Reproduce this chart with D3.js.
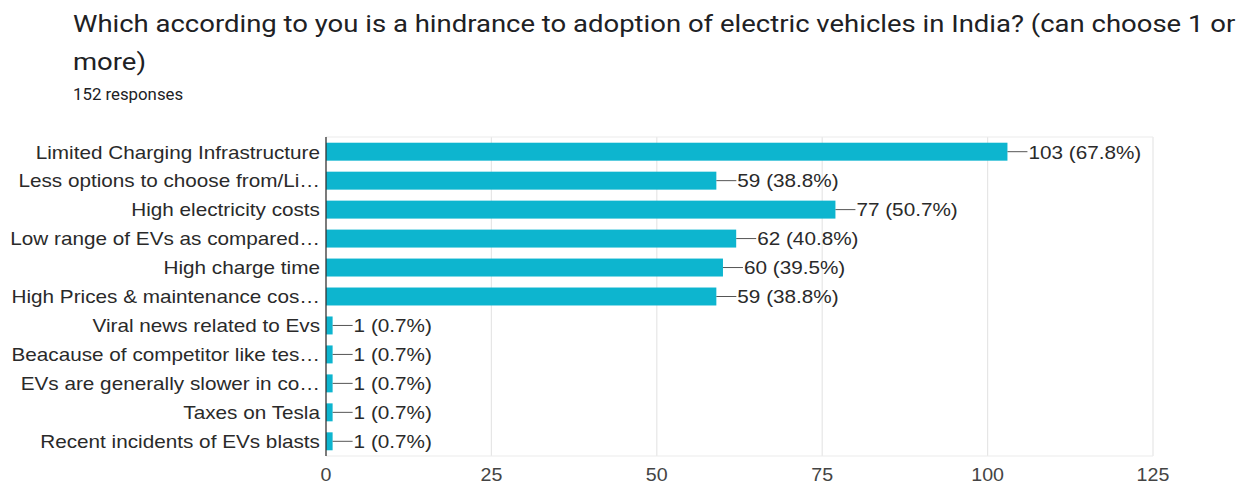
<!DOCTYPE html>
<html>
<head>
<meta charset="utf-8">
<script src="https://cdn.jsdelivr.net/npm/d3@7"></script>
<style>
  html, body { margin: 0; padding: 0; background: #fff; }
  svg { display: block; }
</style>
</head>
<body>
<svg id="chart" width="1245" height="486"></svg>
<script>
// Survey question and response count
const titleLines = [
  "Which according to you is a hindrance to adoption of electric vehicles in India? (can choose 1 or",
  "more)"
];
const responsesText = "152 responses";

// Answer options (already truncated as displayed) and their counts
const categories = [
  "Limited Charging Infrastructure",
  "Less options to choose from/Li\u2026",
  "High electricity costs",
  "Low range of EVs as compared\u2026",
  "High charge time",
  "High Prices & maintenance cos\u2026",
  "Viral news related to Evs",
  "Beacause of competitor like tes\u2026",
  "EVs are generally slower in co\u2026",
  "Taxes on Tesla",
  "Recent incidents of EVs blasts"
];
const counts = [103, 59, 77, 62, 60, 59, 1, 1, 1, 1, 1];
const percents = ["67.8%", "38.8%", "50.7%", "40.8%", "39.5%", "38.8%", "0.7%", "0.7%", "0.7%", "0.7%", "0.7%"];
const xTicks = [0, 25, 50, 75, 100, 125];

const svg = d3.select("#chart");

// Text is drawn slightly widened; stretch each label horizontally by a factor
function widen(sel, factor) {
  sel.each(function () {
    const w = this.getComputedTextLength();
    d3.select(this)
      .attr("textLength", w * factor)
      .attr("lengthAdjust", "spacingAndGlyphs");
  });
}

// Header
svg.append("g").selectAll("text")
  .data(titleLines)
  .join("text")
  .attr("x", 73)
  .attr("y", (d, i) => 32 + i * 38)
  .attr("font-family", "Roboto, 'Open Sans', sans-serif")
  .attr("font-size", 24)
  .attr("fill", "#202124")
  .text(d => d)
  .call(widen, 1.145);

svg.append("text")
  .attr("x", 73)
  .attr("y", 100)
  .attr("font-family", "Roboto, sans-serif")
  .attr("font-size", 16)
  .attr("fill", "#202124")
  .text(responsesText)
  .call(widen, 1.05);

// Plot area
const plot = { left: 326, right: 1153, top: 137, bottom: 456 };

const x = d3.scaleLinear().domain([0, 125]).range([plot.left, plot.right]);
const y = d3.scaleBand()
  .domain(categories)
  .range([plot.top + 0.5, plot.bottom - 0.5])
  .paddingInner(0.38)
  .paddingOuter(0.18);

const labelFont = "'Liberation Sans', Arial, sans-serif";
const labelSize = 19;
const labelStretch = 1.09;

// Vertical gridlines
svg.append("g").selectAll("line")
  .data(xTicks.slice(1))
  .join("line")
  .attr("x1", d => x(d)).attr("x2", d => x(d))
  .attr("y1", plot.top).attr("y2", plot.bottom)
  .attr("stroke", "#e6e6e6")
  .attr("stroke-width", 1.2);

// Top and bottom frame lines
svg.append("g").selectAll("line")
  .data([plot.top, plot.bottom])
  .join("line")
  .attr("x1", plot.left).attr("x2", plot.right)
  .attr("y1", d => d).attr("y2", d => d)
  .attr("stroke", "#ececec")
  .attr("stroke-width", 1.2);

// Bars
svg.append("g").selectAll("rect")
  .data(counts)
  .join("rect")
  .attr("x", x(0))
  .attr("y", (d, i) => y(categories[i]))
  .attr("width", d => x(d) - x(0))
  .attr("height", y.bandwidth())
  .attr("fill", "#0db5cf");

// Baseline axis
svg.append("line")
  .attr("x1", x(0)).attr("x2", x(0))
  .attr("y1", plot.top).attr("y2", plot.bottom)
  .attr("stroke", "#333")
  .attr("stroke-width", 1.3);

// Category labels (right-aligned against the axis)
svg.append("g").selectAll("text")
  .data(categories)
  .join("text")
  .attr("x", x(0) - 6)
  .attr("y", d => y(d) + y.bandwidth() / 2)
  .attr("dy", "0.36em")
  .attr("text-anchor", "end")
  .attr("font-family", labelFont)
  .attr("font-size", labelSize)
  .attr("fill", "#2a2a2a")
  .text(d => d)
  .call(widen, labelStretch);

// Value leader lines and labels
const ann = svg.append("g");
ann.selectAll("line")
  .data(counts)
  .join("line")
  .attr("x1", d => x(d))
  .attr("x2", d => x(d) + 20)
  .attr("y1", (d, i) => y(categories[i]) + y.bandwidth() / 2)
  .attr("y2", (d, i) => y(categories[i]) + y.bandwidth() / 2)
  .attr("stroke", "#555")
  .attr("stroke-width", 1);
ann.selectAll("text")
  .data(counts)
  .join("text")
  .attr("x", d => x(d) + 21)
  .attr("y", (d, i) => y(categories[i]) + y.bandwidth() / 2)
  .attr("dy", "0.36em")
  .attr("font-family", labelFont)
  .attr("font-size", labelSize)
  .attr("fill", "#2a2a2a")
  .text((d, i) => `${d} (${percents[i]})`)
  .call(widen, labelStretch);

// X axis tick labels
svg.append("g").selectAll("text")
  .data(xTicks)
  .join("text")
  .attr("x", d => x(d))
  .attr("y", 481)
  .attr("text-anchor", "middle")
  .attr("font-family", labelFont)
  .attr("font-size", 18)
  .attr("fill", "#444")
  .text(d => d)
  .call(widen, labelStretch);
</script>
</body>
</html>
